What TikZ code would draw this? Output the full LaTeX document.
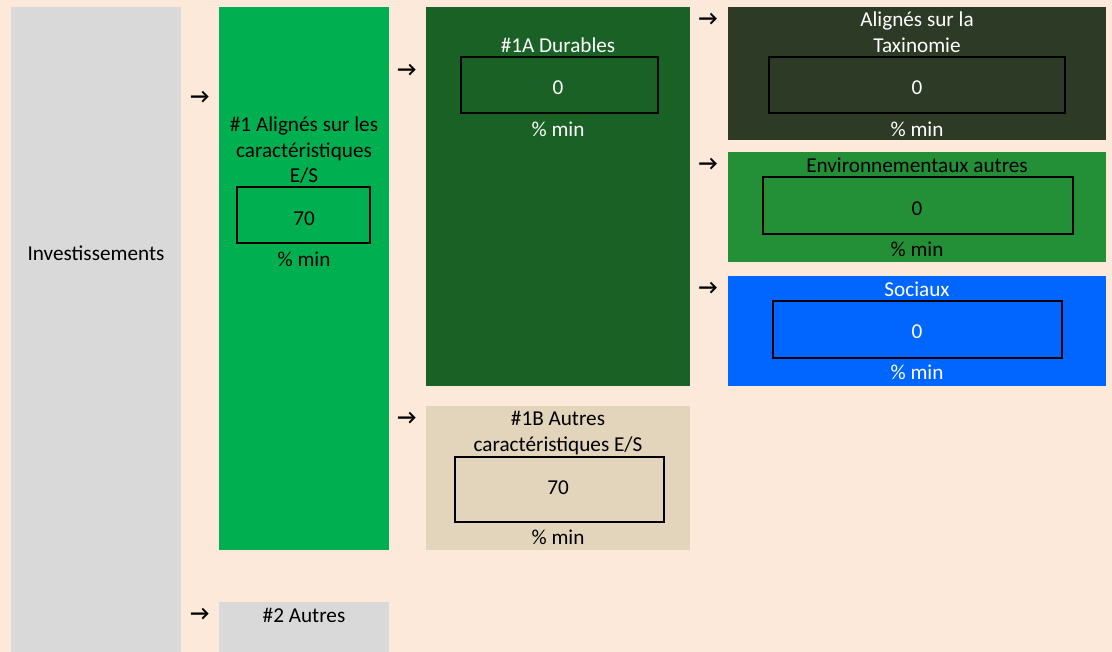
\documentclass[tikz,border=0pt]{standalone}
\usepackage{fontspec}
\setmainfont{Carlito}
\definecolor{peach}{HTML}{FCE9DA}
\definecolor{greybox}{HTML}{D9D9D9}
\definecolor{brightgreen}{HTML}{00B050}
\definecolor{darkgreen}{HTML}{1A6126}
\definecolor{taxogreen}{HTML}{2D3A26}
\definecolor{envgreen}{HTML}{238F36}
\definecolor{socblue}{HTML}{0066FF}
\definecolor{beige}{HTML}{E3D5BC}
\begin{document}
\begin{tikzpicture}[x=1pt,y=-1pt,
    lbl/.style={font=\fontsize{21.2}{25.5}\selectfont,inner sep=0pt,anchor=base},
    valbox/.style={draw=black,line width=2pt},
    arr/.style={font=\bfseries\fontsize{21}{21}\selectfont,inner sep=0pt}]
    \useasboundingbox (0,0) rectangle (1112,652);
    \fill[peach] (0,0) rectangle (1112,652);
    % coloured columns
    \fill[greybox] (11,7) rectangle (181,652);
    \fill[brightgreen] (219,7) rectangle (389,550);
    \fill[greybox] (219,602) rectangle (389,652);
    \fill[darkgreen] (426,7) rectangle (690,386);
    \fill[beige] (426,406) rectangle (690,550);
    \fill[taxogreen] (728,7) rectangle (1106,140);
    \fill[envgreen] (728,152) rectangle (1106,262);
    \fill[socblue] (728,276) rectangle (1106,386);
    % value boxes
    \draw[valbox] (237,187) rectangle (370,243);
    \draw[valbox] (461,57) rectangle (658,113);
    \draw[valbox] (769,57) rectangle (1065,113);
    \draw[valbox] (763,177) rectangle (1073,234);
    \draw[valbox] (773,301) rectangle (1062,358);
    \draw[valbox] (455,457) rectangle (664,522);
    % investissements
    \node[lbl] (inv) at (96,261) {Investissements};
    % #1
    \node[lbl] (alA) at (304,132) {\#1 Alignés sur les};
    \node[lbl] (alB) at (304,157.5) {caractéristiques};
    \node[lbl] (alC) at (304,183) {E/S};
    \node[lbl] (alval) at (304,226) {70};
    \node[lbl] (almin) at (304,267) {\% min};
    % #2
    \node[lbl] (autres) at (304,622) {\#2 Autres};
    % #1A
    \node[lbl,white] (durA) at (558,53) {\#1A Durables};
    \node[lbl,white] (durval) at (558,95) {0};
    \node[lbl,white] (durmin) at (558,137) {\% min};
    % #1B
    \node[lbl] (oaA) at (558,426) {\#1B Autres};
    \node[lbl] (oaB) at (558,452) {caractéristiques E/S};
    \node[lbl] (oaval) at (558,494) {70};
    \node[lbl] (oamin) at (558,544) {\% min};
    % taxinomie
    \node[lbl,white] (taxA) at (917,27) {Alignés sur la};
    \node[lbl,white] (taxB) at (917,53) {Taxinomie};
    \node[lbl,white] (taxval) at (917,95) {0};
    \node[lbl,white] (taxmin) at (917,137) {\% min};
    % environnementaux
    \node[lbl] (envA) at (917,173) {Environnementaux autres};
    \node[lbl] (envval) at (917,216) {0};
    \node[lbl] (envmin) at (917,257) {\% min};
    % sociaux
    \node[lbl,white] (socA) at (917,297) {Sociaux};
    \node[lbl,white] (socval) at (917,339) {0};
    \node[lbl,white] (socmin) at (917,380) {\% min};
    % arrows
    \node[arr] (arrA) at (200,97) {→};
    \node[arr] (arrB) at (200,614) {→};
    \node[arr] (arrC) at (407,70) {→};
    \node[arr] (arrD) at (407,418) {→};
    \node[arr] (arrE) at (708,19) {→};
    \node[arr] (arrF) at (708,164) {→};
    \node[arr] (arrG) at (708,288) {→};
\end{tikzpicture}
\end{document}
